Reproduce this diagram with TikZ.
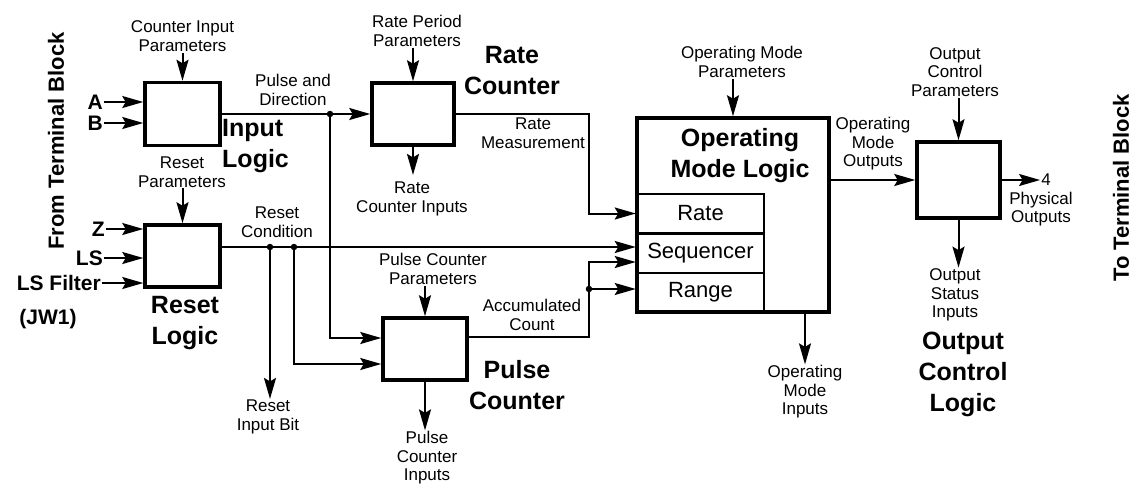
\documentclass[tikz,border=0pt]{standalone}
\usepackage{fontspec}
\setmainfont{Liberation Sans}
\usepackage{tikz}
\usetikzlibrary{arrows.meta,positioning,calc}
\tikzset{
  blk/.style={rectangle, draw, line width=3.5pt, inner sep=0pt},
  cell/.style={rectangle, draw, line width=2.5pt, inner sep=0pt,
               minimum width=127pt, minimum height=39.5pt,
               font=\fontsize{22}{24}\selectfont},
  lbl/.style={align=center, inner sep=1pt, font=\fontsize{17}{18.5}\selectfont},
  ttl/.style={align=center, inner sep=0pt, font=\fontsize{25}{31}\selectfont\bfseries},
  pin/.style={inner sep=1pt, text height=15pt, text depth=0pt,
              font=\fontsize{21}{24}\selectfont\bfseries},
  side/.style={rotate=90, inner sep=0pt, font=\fontsize{22}{24}\selectfont\bfseries},
  flow/.style={-{Stealth[length=21pt,width=12pt,inset=3.5pt]}, line width=2pt},
  dot/.style={circle, fill, inner sep=0pt, minimum size=6.5pt},
}

\begin{document}
\begin{tikzpicture}[x=1pt, y=-1pt, node distance=10pt]
  \useasboundingbox[fill=white] (0,0) rectangle (1134,491);

  % blocks
  \node[blk, minimum width=75pt, minimum height=63pt] (inlog) at (182.5,114) {};
  \node[blk, minimum width=75pt, minimum height=62pt] (rstlog) at (182.5,256) {};
  \node[blk, minimum width=82pt, minimum height=62pt] (ratec) at (413,114) {};
  \node[blk, minimum width=84pt, minimum height=62pt] (pulsec) at (425,349) {};
  \node[blk, minimum width=192pt, minimum height=194pt] (opmode) at (733,215) {};
  \node[blk, minimum width=83pt, minimum height=76pt] (outctl) at (958.5,180) {};
  \node[cell] (ratecell) at (700.5,213.5) {Rate};
  \node[cell] (seqcell) at (700.5,253) {Sequencer};
  \node[cell] (rngcell) at (700.5,292.5) {Range};

  % block titles
  \node[ttl, align=left, anchor=west] (inlogt) at (222,146) {Input\\Logic};
  \node[ttl] (rstlogt) at (185,323) {Reset\\Logic};
  \node[ttl] (ratect) at (512,71) {Rate\\Counter};
  \node[ttl] (pulsect) at (517,385) {Pulse\\Counter};
  \node[ttl] (opmodet) at (740,156) {Operating\\Mode Logic};
  \node[ttl] (outctlt) at (963,374) {Output\\Control\\Logic};

  % terminal block sides
  \node[side] (fromtb) at (56,141) {From Terminal Block};
  \node[side] (totb) at (1121,188) {To Terminal Block};

  % inputs
  \node[pin, anchor=east] (pa) at (104,102) {A};
  \node[pin, anchor=east] (pb) at (104,123) {B};
  \node[pin, anchor=east] (pz) at (106,229) {Z};
  \node[pin, anchor=east] (pls) at (104,258) {LS};
  \node[pin, anchor=east] (plsf) at (102,283) {LS Filter};
  \node[pin] (pjw) at (48,317) {(JW1)};
  \foreach \p/\b in {pa/inlog, pb/inlog, pz/rstlog, pls/rstlog, plsf/rstlog}
    \draw[flow] (\p) -- (\p -| \b.west);

  % parameter and status labels
  \node[lbl, above=28pt of inlog] (cip) {Counter Input\\Parameters};
  \node[lbl] (rsp) at (182,172) {Reset\\Parameters};
  \node[lbl] (rpp) at (417,31) {Rate Period\\Parameters};
  \node[lbl] (rci) at (412,199) {Rate\\Counter Inputs};
  \node[lbl] (pcp) at (433,269) {Pulse Counter\\Parameters};
  \node[lbl] (pci) at (427,458) {Pulse\\Counter\\Inputs};
  \node[lbl] (omp) at (742,62) {Operating Mode\\Parameters};
  \node[lbl] (omi) at (805,392) {Operating\\Mode\\Inputs};
  \node[lbl] (ocp) at (955,72) {Output\\Control\\Parameters};
  \node[lbl] (osi) at (955,295) {Output\\Status\\Inputs};
  \node[lbl] (rib) at (268,417) {Reset\\Input Bit};

  \draw[flow] (inlog.north |- cip.south) -- (inlog.north);
  \draw[flow] (rstlog.north |- rsp.south) -- (rstlog.north);
  \draw[flow] (ratec.north |- rpp.south) -- (ratec.north);
  \draw[flow] (ratec.south) -- ([yshift=6pt]ratec.south |- rci.north);
  \draw[flow] (pulsec.north |- pcp.south) -- (pulsec.north);
  \draw[flow] (pulsec.south) -- (pulsec.south |- pci.north);
  \draw[flow] (opmode.north |- omp.south) -- (opmode.north);
  \draw[flow] (omi.north |- opmode.south) -- (omi.north);
  \draw[flow] (outctl.north |- ocp.south) -- (outctl.north);
  \draw[flow] (outctl.south) -- (outctl.south |- osi.north);

  % signal labels
  \node[lbl] (pdir) at (293,90) {Pulse and\\Direction};
  \node[lbl] (rcond) at (277,222) {Reset\\Condition};
  \node[lbl] (rmeas) at (533,133) {Rate\\Measurement};
  \node[lbl] (acnt) at (532,315) {Accumulated\\Count};
  \node[lbl] (omo) at (873,144) {Operating\\Mode\\Outputs};
  \node[lbl] (four) at (1046,180) {4};
  \node[lbl] (phys) at (1041,209) {Physical\\Outputs};

  % junctions
  \node[dot] (jp) at (330,114) {};
  \node[dot] (jr1) at (270,247) {};
  \node[dot] (jr2) at (294,247) {};
  \node[dot] (ja) at (589,289) {};
  \coordinate (acc) at (589,262);

  % signal paths
  \draw[flow] (inlog.east) -- (ratec.west);
  \draw[flow] (jp.center) |- ([yshift=11pt]pulsec.west);
  \draw[flow] ([yshift=9pt]rstlog.east) -- (seqcell.west |- jr1.center);
  \draw[flow] (jr1.center) -- (jr1.center |- rib.north);
  \draw[flow] (jr2.center) |- ([yshift=-15pt]pulsec.west);
  \draw[flow] (ratec.east) -| ([xshift=-47pt]ratecell.west) -- (ratecell.west);
  \draw[flow] ([yshift=12pt]pulsec.east) -| (acc) -- (acc -| seqcell.west);
  \draw[flow] (ja.center) -- (ja.center -| rngcell.west);
  \draw[flow] (opmode.east |- outctl.west) -- (outctl.west);
  \draw[flow] (outctl.east) -- (four.west);
\end{tikzpicture}
\end{document}
